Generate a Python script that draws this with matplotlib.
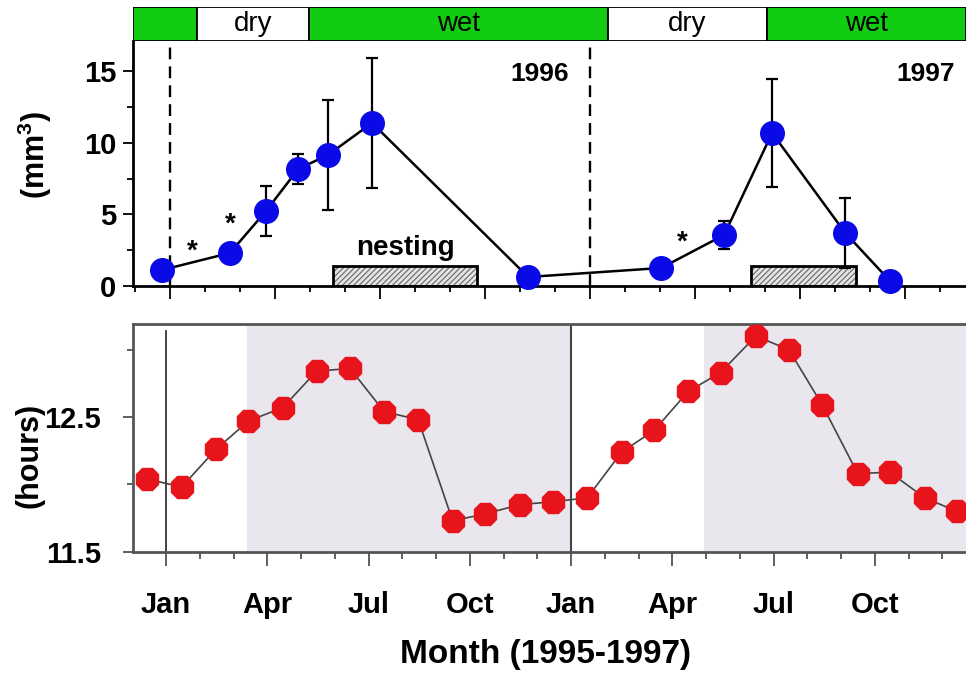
import matplotlib.pyplot as plt
import numpy as np
from matplotlib.ticker import MultipleLocator, FixedLocator

plt.rcParams['font.family'] = ['Liberation Sans', 'DejaVu Sans']
plt.rcParams['font.weight'] = 'bold'
plt.rcParams['mathtext.fontset'] = 'custom'
plt.rcParams['mathtext.rm'] = 'Liberation Sans:bold'
plt.rcParams['mathtext.default'] = 'rm'
plt.rcParams['hatch.linewidth'] = 0.8

# months counted from Jan 1996 (0 = Jan 1996, 12 = Jan 1997)
season_edges = [-1.06, 0.77, 3.97, 12.51, 17.06, 22.74]
season_labels = ['', 'dry', 'wet', 'dry', 'wet']
season_colors = ['#11cc11', 'white', '#11cc11', 'white', '#11cc11']

vol_month = [-0.23, 1.71, 2.74, 3.66, 4.51, 5.77, 10.23, 14.03, 15.83, 17.2, 19.29, 20.57]
vol_mean = [1.12, 2.31, 5.24, 8.18, 9.16, 11.4, 0.63, 1.26, 3.57, 10.7, 3.71, 0.35]
vol_err = [0.0, 0.4, 1.75, 1.05, 3.85, 4.55, 0.0, 0.0, 0.95, 3.78, 2.45, 0.0]

star_month = [0.63, 1.71, 14.63]
star_value = [2.9, 4.75, 3.5]

nest_start = [4.66, 16.6]
nest_end = [8.77, 19.6]
nest_height = 1.4

day_month = [-0.57, 0.46, 1.48, 2.44, 3.46, 4.46, 5.45, 6.46, 7.47, 8.49, 9.45, 10.49,
             11.45, 12.48, 13.5, 14.46, 15.47, 16.43, 17.47, 18.45, 19.44, 20.49, 21.44,
             22.48, 23.42]
day_hours = [12.04, 11.98, 12.26, 12.47, 12.57, 12.84, 12.86, 12.54, 12.48, 11.73, 11.78,
             11.85, 11.87, 11.90, 12.24, 12.40, 12.69, 12.83, 13.10, 13.00, 12.59, 12.08,
             12.09, 11.90, 11.80]

shade_spans = [(2.40, 12.0), (15.94, 23.7)]

tick_months = [0, 3, 6, 9, 12, 15, 18, 21]
tick_names = ['Jan', 'Apr', 'Jul', 'Oct', 'Jan', 'Apr', 'Jul', 'Oct']

W, H = 966, 677
fig = plt.figure(figsize=(W / 100, H / 100), dpi=100)

# season bar
ax_bar = fig.add_axes([133 / W, 1 - 41 / H, 1 - 133 / W, 34 / H])
for i in range(len(season_labels)):
    x0, x1 = season_edges[i], season_edges[i + 1]
    ax_bar.axvspan(x0, x1, facecolor=season_colors[i], edgecolor='black', linewidth=1.3)
    if season_labels[i]:
        ax_bar.text((x0 + x1) / 2, 0.5, season_labels[i], ha='center', va='center',
                    fontsize=20, fontweight='normal', transform=ax_bar.get_xaxis_transform())
ax_bar.set_xlim(season_edges[0], season_edges[-1])
ax_bar.axis('off')

# top panel
ax1 = fig.add_axes([133 / W, 1 - 286 / H, 1 - 133 / W, 245 / H])
ax1.set_xlim(-1.06, 22.74)
ax1.set_ylim(0, 17.13)

for s, e in zip(nest_start, nest_end):
    ax1.bar(s, nest_height, width=e - s, align='edge', facecolor='#e4e4e4',
            edgecolor='#666666', hatch='//////', linewidth=0, zorder=1)
    ax1.bar(s, nest_height, width=e - s, align='edge', facecolor='none',
            edgecolor='black', linewidth=2, zorder=1.5)

ax1.axvline(0, color='black', linestyle=(0, (5, 3)), linewidth=1.7, zorder=1)
ax1.axvline(12, color='black', linestyle=(0, (5, 3)), linewidth=1.7, zorder=1)

ax1.errorbar(vol_month, vol_mean, yerr=vol_err, fmt='none', ecolor='black',
             elinewidth=1.6, capsize=4, capthick=1.6, zorder=2)
ax1.plot(vol_month, vol_mean, color='black', linewidth=1.8, marker='o',
         markersize=17, markerfacecolor='#0a0ae6', markeredgecolor='#0a0ae6', zorder=3,
         clip_on=False)

for m, v in zip(star_month, star_value):
    ax1.annotate('*', xy=(m, v), xytext=(0, -10), textcoords='offset points',
                 ha='center', va='baseline', fontsize=20)

ax1.text(6.71, 2.66, 'nesting', ha='center', va='center', fontsize=20)
ax1.text(10.57, 14.8, '1996', ha='center', va='center', fontsize=19)
ax1.text(21.6, 14.8, '1997', ha='center', va='center', fontsize=19)

ax1.yaxis.set_major_locator(MultipleLocator(5))
ax1.yaxis.set_minor_locator(MultipleLocator(2.5))
ax1.xaxis.set_major_locator(FixedLocator(tick_months))
ax1.xaxis.set_minor_locator(MultipleLocator(1))
ax1.set_xticklabels([])
ax1.tick_params(axis='y', which='major', length=7, width=1.3, labelsize=21, pad=5)
ax1.tick_params(axis='y', which='minor', length=4, width=1.3)
ax1.tick_params(axis='x', which='major', length=9, width=1.3)
ax1.tick_params(axis='x', which='minor', length=4, width=1.3)
for side in ['top', 'right']:
    ax1.spines[side].set_visible(False)
for side in ['left', 'bottom']:
    ax1.spines[side].set_linewidth(2)

# bottom panel
ax2 = fig.add_axes([133 / W, 1 - 551.7 / H, 1 - 133 / W, 227.7 / H])
ax2.set_xlim(-0.98, 23.7)
ax2.set_ylim(11.5, 13.19)
for s, e in shade_spans:
    ax2.axvspan(s, e, facecolor='#e9e6ee', edgecolor='none', zorder=0)
ax2.plot([0, 0], [11.5, 13.14], color='#222222', linewidth=1.2, zorder=1)
ax2.axvline(12, color='#444444', linewidth=1.5, zorder=1)
ax2.plot(day_month, day_hours, color='#444444', linewidth=1.2, marker='8',
         markersize=17, markerfacecolor='#e8141c', markeredgecolor='#e8141c', zorder=3,
         clip_on=False)

ax2.yaxis.set_major_locator(FixedLocator([11.5, 12.5]))
ax2.yaxis.set_minor_locator(FixedLocator([12.0, 13.0]))
ax2.set_yticklabels(['11.5', '12.5'])
ax2.xaxis.set_major_locator(FixedLocator(tick_months))
ax2.xaxis.set_minor_locator(MultipleLocator(1))
ax2.set_xticklabels(tick_names)
ax2.tick_params(axis='y', which='major', length=7, width=1.2, color='#444444',
                labelsize=21, pad=16)
ax2.tick_params(axis='y', which='minor', length=4, width=1.2, color='#444444')
ax2.tick_params(axis='x', which='major', length=10, width=1.2, color='#444444',
                labelsize=21, pad=18)
ax2.tick_params(axis='x', which='minor', length=5, width=1.2, color='#444444')
ax2.spines['right'].set_visible(False)
for side in ['left', 'bottom', 'top']:
    ax2.spines[side].set_color('#555555')
    ax2.spines[side].set_linewidth(2)

fig.text(35 / W, 1 - 155 / H, '(mm$^3$)', rotation=90, ha='center', va='center', fontsize=22)
fig.text(29 / W, 1 - 455 / H, '(hours)', rotation=90, ha='center', va='center', fontsize=22)
fig.text(545 / W, 1 - 655 / H, 'Month (1995-1997)', ha='center', va='center', fontsize=24)

fig.savefig('out.png', dpi=100)
